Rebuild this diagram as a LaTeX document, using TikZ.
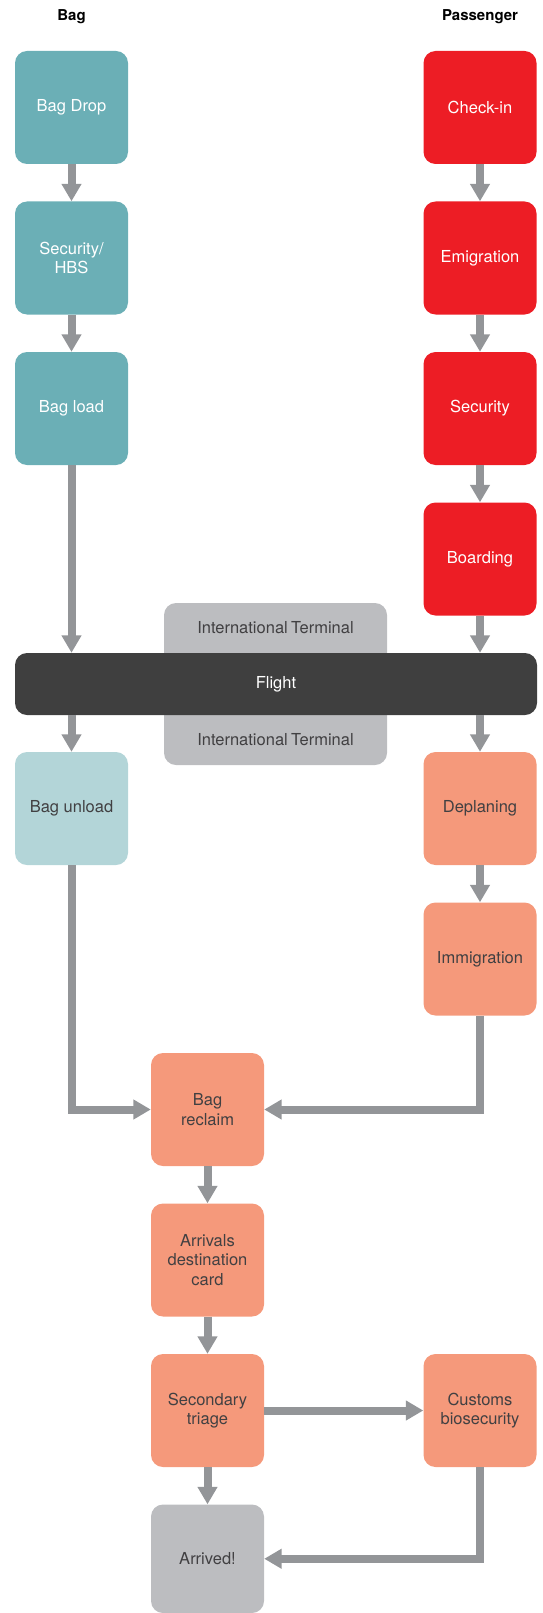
\documentclass[tikz,border=0pt]{standalone}
\usepackage{fontspec}
\setmainfont{TeX Gyre Heros}
\usetikzlibrary{arrows.meta}
\definecolor{bagteal}{HTML}{6BAFB6}
\definecolor{lightteal}{HTML}{B3D5D8}
\definecolor{paxred}{HTML}{ED1D25}
\definecolor{salmon}{HTML}{F5997B}
\definecolor{boxgray}{HTML}{BCBDC0}
\definecolor{flightdark}{HTML}{3F3F3F}
\definecolor{arrowgray}{HTML}{939598}
\definecolor{darktext}{HTML}{414042}
\tikzset{
  stage/.style={rectangle, rounded corners=12pt, minimum width=113pt, minimum height=113pt,
    inner sep=0pt, align=center, font=\fontsize{16.5}{19.5}\selectfont},
  teal stage/.style={stage, fill=bagteal, text=white},
  red stage/.style={stage, fill=paxred, text=white},
  salmon stage/.style={stage, fill=salmon, text=darktext},
  pale stage/.style={stage, fill=lightteal, text=darktext},
  gray stage/.style={stage, fill=boxgray, text=darktext},
  header/.style={font=\fontsize{15}{18}\selectfont\bfseries, text=black, inner sep=0pt},
  flow/.style={draw=arrowgray, line width=8pt, -{Triangle[width=19pt,length=17.5pt]}, line join=miter}
}
\begin{document}
\begin{tikzpicture}[x=1pt,y=-1pt]
\useasboundingbox (0,0) rectangle (542,1613);
% headers
\node[header] (hbag) at (71.5,17) {Bag};
\node[header] (hpax) at (480,17) {Passenger};
% international terminal backdrop
\node[rectangle, rounded corners=12pt, fill=boxgray, minimum width=223pt, minimum height=162pt, inner sep=0pt] (term) at (275.5,684) {};
\node[font=\fontsize{16.5}{19.5}\selectfont, text=darktext, inner sep=0pt] (termtop) at (275.5,628) {International\hspace{0.2em}Terminal};
\node[font=\fontsize{16.5}{19.5}\selectfont, text=darktext, inner sep=0pt] (termbot) at (275.5,740) {International\hspace{0.2em}Terminal};
% flight bar
\node[rectangle, rounded corners=12pt, fill=flightdark, text=white, minimum width=522pt, minimum height=62pt, inner sep=0pt, font=\fontsize{16.5}{19.5}\selectfont] (flight) at (276,684) {Flight};
% bag column
\node[teal stage] (bagdrop) at (71.5,107.5) {Bag Drop};
\node[teal stage] (hbs) at (71.5,258) {Security/\\HBS};
\node[teal stage] (bagload) at (71.5,408.5) {Bag load};
% passenger column
\node[red stage] (checkin) at (480,107.5) {Check-in};
\node[red stage] (emig) at (480,258) {Emigration};
\node[red stage] (security) at (480,408.5) {Security};
\node[red stage] (boarding) at (480,559) {Boarding};
% arrivals
\node[pale stage] (unload) at (71.5,808.5) {Bag unload};
\node[salmon stage] (deplane) at (480,808.5) {Deplaning};
\node[salmon stage] (immig) at (480,959) {Immigration};
\node[salmon stage] (reclaim) at (207.5,1109.5) {Bag\\reclaim};
\node[salmon stage] (card) at (207.5,1260) {Arrivals\\destination\\card};
\node[salmon stage] (triage) at (207.5,1410.5) {Secondary\\triage};
\node[salmon stage] (customs) at (480,1410.5) {Customs\\biosecurity};
\node[gray stage, minimum height=108.5pt] (arrived) at (207.5,1558.75) {Arrived!};
% connectors
\draw[flow] (bagdrop) -- (hbs);
\draw[flow] (hbs) -- (bagload);
\draw[flow] (checkin) -- (emig);
\draw[flow] (emig) -- (security);
\draw[flow] (security) -- (boarding);
\draw[flow] (bagload.south) -- (bagload.south |- flight.north);
\draw[flow] (boarding.south) -- (boarding.south |- flight.north);
\draw[flow] (flight.south -| unload) -- (unload.north);
\draw[flow] (flight.south -| deplane) -- (deplane.north);
\draw[flow] (deplane) -- (immig);
\draw[flow] (unload.south) |- (reclaim.west);
\draw[flow] (immig.south) |- (reclaim.east);
\draw[flow] (reclaim) -- (card);
\draw[flow] (card) -- (triage);
\draw[flow] (triage) -- (customs);
\draw[flow] (triage) -- (arrived);
\draw[flow] (customs.south) |- (arrived.east);
\end{tikzpicture}
\end{document}
